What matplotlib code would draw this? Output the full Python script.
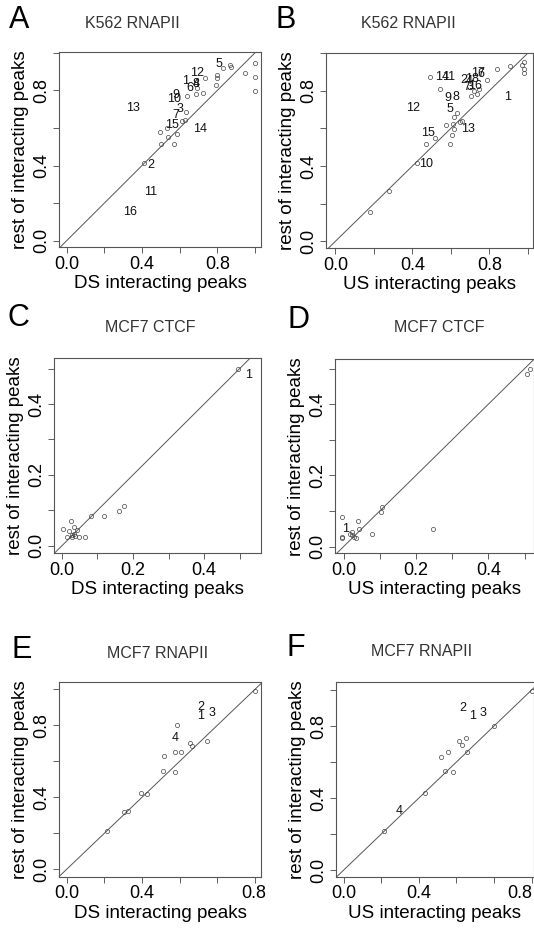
import matplotlib
matplotlib.use("Agg")
import matplotlib.pyplot as plt

plt.rcParams['font.family'] = ['Liberation Sans', 'DejaVu Sans']

# ---- data ----
# panel A: K562 RNAPII, DS vs rest
a_pts_x = [0.832, 0.867, 0.871, 1.0, 0.947, 1.0, 1.0, 0.734, 0.797, 0.80, 0.793, 0.685, 0.722,
           0.637, 0.632, 0.611, 0.628, 0.495, 0.534, 0.538, 0.584, 0.499, 0.57, 0.41, 0.69]
a_pts_y = [0.917, 0.937, 0.923, 0.947, 0.894, 0.873, 0.797, 0.864, 0.882, 0.864, 0.829, 0.779, 0.784,
           0.772, 0.687, 0.639, 0.642, 0.58, 0.60, 0.55, 0.568, 0.515, 0.515, 0.415, 0.815]
a_lab = ['1', '2', '3', '4', '5', '6', '7', '8', '9', '10', '11', '12', '13', '14', '15', '16']
a_lab_x = [0.63, 0.448, 0.602, 0.69, 0.81, 0.655, 0.58, 0.685, 0.58, 0.572, 0.448, 0.694, 0.35, 0.711, 0.561, 0.336]
a_lab_y = [0.851, 0.405, 0.701, 0.832, 0.94, 0.811, 0.669, 0.832, 0.775, 0.753, 0.26, 0.891, 0.708, 0.594, 0.616, 0.151]

# panel B: K562 RNAPII, US vs rest
b_pts_x = [0.492, 0.544, 0.617, 0.634, 0.66, 0.648, 0.573, 0.613, 0.617, 0.608, 0.596, 0.518, 0.471,
           0.424, 0.281, 0.182, 0.838, 0.907, 0.968, 0.98, 0.982, 0.98, 0.79, 0.748, 0.738, 0.703, 0.72]
b_pts_y = [0.871, 0.807, 0.662, 0.68, 0.639, 0.632, 0.618, 0.623, 0.597, 0.565, 0.515, 0.547, 0.515,
           0.414, 0.267, 0.154, 0.915, 0.933, 0.937, 0.95, 0.915, 0.892, 0.857, 0.807, 0.782, 0.772, 0.80]
b_lab = ['1', '2', '3', '4', '5', '6', '7', '8', '9', '10', '11', '12', '13', '14', '15', '16', '17', '18']
b_lab_x = [0.894, 0.665, 0.70, 0.695, 0.596, 0.755, 0.683, 0.627, 0.582, 0.471, 0.587, 0.405, 0.691,
           0.553, 0.483, 0.726, 0.743, 0.709]
b_lab_y = [0.765, 0.855, 0.82, 0.852, 0.701, 0.89, 0.821, 0.768, 0.76, 0.41, 0.871, 0.707, 0.597,
           0.871, 0.574, 0.827, 0.896, 0.862]

# panel C: MCF7 CTCF, DS vs rest
c_pts_x = [0.175, 0.161, 0.119, 0.082, 0.025, 0.002, 0.019, 0.035, 0.044, 0.033, 0.037, 0.03, 0.014,
           0.047, 0.065, 0.028, 0.496]
c_pts_y = [0.111, 0.097, 0.083, 0.083, 0.071, 0.048, 0.042, 0.052, 0.045, 0.033, 0.028, 0.026, 0.026,
           0.026, 0.026, 0.031, 0.498]
c_lab = ['1']
c_lab_x = [0.524]
c_lab_y = [0.482]

# panel D: MCF7 CTCF, US vs rest
d_pts_x = [0.105, 0.103, -0.004, 0.04, 0.043, 0.078, 0.022, 0.017, 0.024, 0.029, 0.034, -0.004,
           -0.004, 0.248, 0.514, 0.508]
d_pts_y = [0.112, 0.098, 0.083, 0.072, 0.049, 0.035, 0.042, 0.035, 0.033, 0.028, 0.025, 0.028,
           0.025, 0.049, 0.498, 0.485]
d_lab = ['1']
d_lab_x = [0.006]
d_lab_y = [0.05]

# panel E: MCF7 RNAPII, DS vs rest
e_pts_x = [0.998, 0.747, 0.655, 0.667, 0.586, 0.575, 0.605, 0.517, 0.51, 0.575, 0.425, 0.395, 0.304, 0.327, 0.216]
e_pts_y = [0.99, 0.714, 0.70, 0.685, 0.802, 0.653, 0.653, 0.629, 0.548, 0.541, 0.42, 0.426, 0.32, 0.326, 0.214]
e_lab = ['1', '2', '3', '4']
e_lab_x = [0.713, 0.713, 0.773, 0.579]
e_lab_y = [0.852, 0.903, 0.87, 0.731]

# panel F: MCF7 RNAPII, US vs rest
f_pts_x = [1.0, 0.8, 0.652, 0.615, 0.631, 0.654, 0.555, 0.517, 0.54, 0.583, 0.432, 0.213]
f_pts_y = [0.994, 0.8, 0.735, 0.718, 0.694, 0.657, 0.657, 0.63, 0.548, 0.544, 0.426, 0.217]
f_lab = ['1', '2', '3', '4']
f_lab_x = [0.686, 0.636, 0.741, 0.293]
f_lab_y = [0.856, 0.898, 0.87, 0.328]

# tick values and the labels the reference prints at them
unit_ticks = [0.0, 0.2, 0.4, 0.6, 0.8, 1.0]
unit_labels = ['0.0', '', '0.4', '', '0.8', '']
half_ticks = [0.0, 0.1, 0.2, 0.3, 0.4, 0.5]
half_labels = ['0.0', '', '0.2', '', '0.4', '']
# E and F print their last x label ("0.8") out at the right end of the axis
shifted_labels = ['0.0', '', '0.4', '', '', '']
shifted_last = '0.8'
shifted_last_x = [0.995, 0.935]   # where it sits in E and in F

panels = [
    ('A', 'K562 RNAPII', 'DS interacting peaks', a_pts_x, a_pts_y, a_lab, a_lab_x, a_lab_y),
    ('B', 'K562 RNAPII', 'US interacting peaks', b_pts_x, b_pts_y, b_lab, b_lab_x, b_lab_y),
    ('C', 'MCF7 CTCF', 'DS interacting peaks', c_pts_x, c_pts_y, c_lab, c_lab_x, c_lab_y),
    ('D', 'MCF7 CTCF', 'US interacting peaks', d_pts_x, d_pts_y, d_lab, d_lab_x, d_lab_y),
    ('E', 'MCF7 RNAPII', 'DS interacting peaks', e_pts_x, e_pts_y, e_lab, e_lab_x, e_lab_y),
    ('F', 'MCF7 RNAPII', 'US interacting peaks', f_pts_x, f_pts_y, f_lab, f_lab_x, f_lab_y),
]

# ---- layout (pixels of a 534x930 canvas) ----
W, H = 534, 930
# axes box: left, top, right, bottom
boxes = [(59.3, 51.7, 261, 247.3), (326.3, 52.7, 532.7, 248.3),
         (54, 358.3, 261, 553.3), (335.3, 359.3, 534, 553.3),
         (59.3, 682.3, 261, 876.7), (336, 682.3, 534, 876.7)]
xlims = [(-0.039, 1.032), (-0.047, 1.025), (-0.022, 0.56), (-0.023, 0.526), (-0.039, 1.032), (-0.041, 1.013)]
ylims = [(-0.035, 1.006), (-0.037, 1.002), (-0.021, 0.529), (-0.019, 0.526), (-0.041, 1.039), (-0.037, 1.043)]
letter_pos = [(19, 20), (286, 20), (18, 318), (298, 320), (22, 650), (296, 648)]
title_pos = [(132, 24), (408, 24), (150, 328), (439, 328), (158, 653), (422, 652)]

TICK_LEN, TICK_PAD, TICK_SIZE = 4.5, 1.5, 13

fig = plt.figure(figsize=(W / 100, H / 100), dpi=100)

for i, (letter, title, xlab, px, py, lab, lx, ly) in enumerate(panels):
    l, t, r, b = boxes[i]
    ax = fig.add_axes([l / W, 1 - b / H, (r - l) / W, (b - t) / H])
    ax.set_xlim(*xlims[i])
    ax.set_ylim(*ylims[i])
    ax.axline((0, 0), (1, 1), color='#555555', lw=0.7)
    ax.plot(px, py, 'o', ms=3, mfc='none', mec='#444444', mew=0.5)
    for s, x, y in zip(lab, lx, ly):
        ax.text(x, y, s, fontsize=9, ha='center', va='center', color='#111111')

    if i in (2, 3):
        ticks, xshown, yshown = half_ticks, half_labels, half_labels
    elif i in (4, 5):
        ticks, xshown, yshown = unit_ticks, shifted_labels, unit_labels
    else:
        ticks, xshown, yshown = unit_ticks, unit_labels, unit_labels
    xt = [(v, s) for v, s in zip(ticks, xshown) if xlims[i][0] <= v <= xlims[i][1]]
    yt = [(v, s) for v, s in zip(ticks, yshown) if ylims[i][0] <= v <= ylims[i][1]]
    ax.set_xticks([v for v, s in xt])
    ax.set_xticklabels([s for v, s in xt])
    ax.set_yticks([v for v, s in yt])
    ax.set_yticklabels([s for v, s in yt], rotation=90, va='center')
    ax.tick_params(length=TICK_LEN, width=0.6, color='#444444', labelsize=TICK_SIZE, pad=TICK_PAD)
    ax.tick_params(axis='y', pad=2)
    if i in (4, 5):
        ax.annotate(shifted_last, xy=(shifted_last_x[i - 4], 0),
                    xycoords=('data', 'axes fraction'),
                    xytext=(0, -(TICK_LEN + TICK_PAD)), textcoords='offset points',
                    ha='center', va='top', fontsize=TICK_SIZE, annotation_clip=False)
    for sp in ax.spines.values():
        sp.set_color('#555555')
        sp.set_linewidth(0.8)
    ax.set_xlabel(xlab, fontsize=13.5, labelpad=2)
    ax.set_ylabel('rest of interacting peaks', fontsize=13.5, labelpad=3)

    fig.text(letter_pos[i][0] / W, 1 - letter_pos[i][1] / H, letter, fontsize=22,
             ha='center', va='center')
    fig.text(title_pos[i][0] / W, 1 - title_pos[i][1] / H, title, fontsize=11.5,
             ha='center', va='center', color='#333333')

fig.savefig('out.png', dpi=100)
